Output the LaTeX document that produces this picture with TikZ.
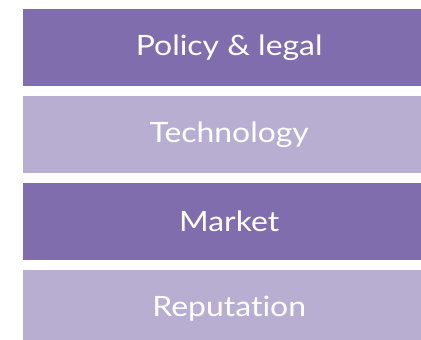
\documentclass[tikz,border=0pt]{standalone}
\usepackage{fontspec}
\setmainfont{Lato}[FakeStretch=1.14, Ligatures={NoCommon}]
\usetikzlibrary{positioning}
\definecolor{riskdark}{HTML}{7F6DAD}
\definecolor{risklight}{HTML}{B7AED2}

\begin{document}
\begin{tikzpicture}[x=1pt,y=-1pt,
    riskbox/.style={rectangle, minimum width=412pt, minimum height=77pt,
      inner sep=0pt, text=white, font=\fontsize{28}{32}\selectfont},
    node distance=9.5pt]
    \useasboundingbox (0,0) rectangle (421,340);
    \clip (0,0) rectangle (421,340);
    % risk categories
    \node[riskbox, fill=riskdark, anchor=north west] (policy) at (23,9) {Policy \& legal};
    \node[riskbox, fill=risklight, below=of policy] (tech) {Technology};
    \node[riskbox, fill=riskdark, below=of tech] (market) {Market};
    \node[riskbox, fill=risklight, below=of market] (reput) {Reputation};
\end{tikzpicture}
\end{document}
